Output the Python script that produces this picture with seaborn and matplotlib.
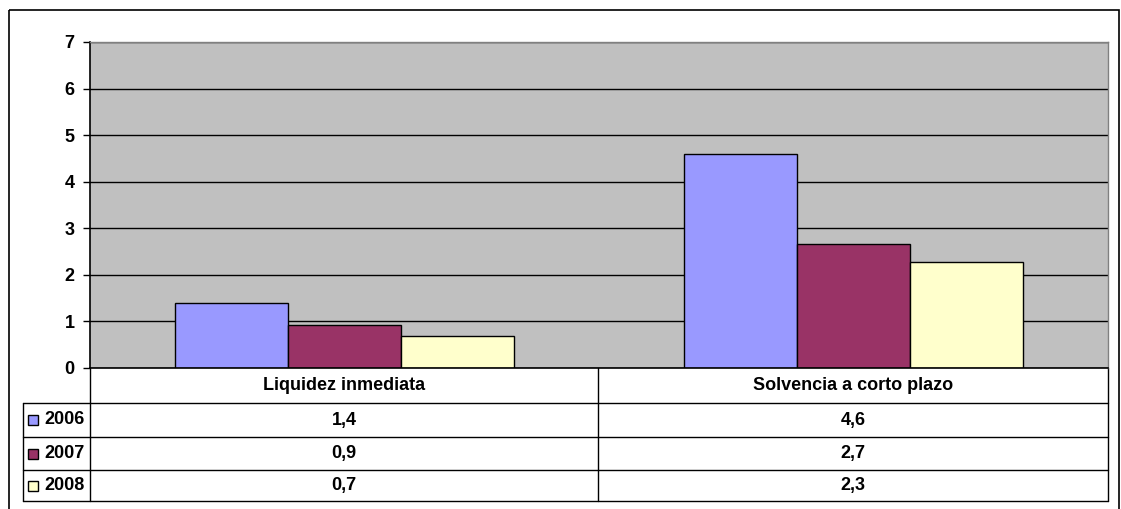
import seaborn as sns
import matplotlib.pyplot as plt
import pandas as pd
from matplotlib.patches import Rectangle

# chart data
categories = ["Liquidez inmediata", "Solvencia a corto plazo"]
years = ["2006", "2007", "2008"]
values_2006 = [1.40, 4.60]
values_2007 = [0.92, 2.66]
values_2008 = [0.68, 2.28]
year_colors = ["#9999FF", "#993366", "#FFFFCC"]
y_ticks = [0, 1, 2, 3, 4, 5, 6, 7]

series = {"2006": values_2006, "2007": values_2007, "2008": values_2008}
rows = []
for year in years:
    for cat, val in zip(categories, series[year]):
        rows.append({"categoria": cat, "anio": year, "valor": val})
df = pd.DataFrame(rows)

sns.set_style("white")
plt.rcParams["font.family"] = ["Liberation Sans", "DejaVu Sans"]
plt.rcParams["font.weight"] = "bold"
plt.rcParams["text.color"] = "black"
plt.rcParams["ytick.color"] = "black"
plt.rcParams["ytick.labelcolor"] = "black"

FS = 13
W, H = 1121, 509
fig = plt.figure(figsize=(W / 100, H / 100), dpi=100)

def px_box(x0, y0, x1, y1):
    return [x0 / W, 1 - y1 / H, (x1 - x0) / W, (y1 - y0) / H]

# overlay for frame and data table (pixel coordinates)
over = fig.add_axes([0, 0, 1, 1])
over.set_xlim(0, W)
over.set_ylim(H, 0)
over.axis("off")
over.add_patch(Rectangle((9, 10), 1110, 520, fill=False, ec="black", lw=1.2, clip_on=False))

ax = fig.add_axes(px_box(90, 42, 1108, 368))
sns.barplot(data=df, x="categoria", y="valor", hue="anio", palette=year_colors,
            width=0.667, edgecolor="black", linewidth=1, saturation=1,
            legend=False, ax=ax)
ax.set_facecolor("#C0C0C0")
ax.set_ylim(0, 7)
ax.set_xlim(-0.5, 1.5)
ax.set_yticks(y_ticks)
ax.set_yticklabels([str(t) for t in y_ticks], fontsize=FS, fontweight="bold", color="black")
ax.set_xticks([])
ax.set_xlabel("")
ax.set_ylabel("")
ax.yaxis.grid(True, color="black", lw=1)
ax.set_axisbelow(True)
ax.tick_params(axis="y", length=5, width=1, color="black", direction="out", pad=6, left=True)
for side in ["left", "bottom"]:
    ax.spines[side].set_color("black")
    ax.spines[side].set_linewidth(1.2)
for side in ["top", "right"]:
    ax.spines[side].set_color("#808080")
    ax.spines[side].set_linewidth(1)

# data table under the chart
x_left, x_plot, x_mid, x_right = 23, 90, 598, 1108
row_lines = [368, 403, 437, 470, 501]
lc = "black"
for y in row_lines[1:]:
    over.plot([x_left, x_right], [y, y], color=lc, lw=1)
for x in [x_plot, x_mid, x_right]:
    over.plot([x, x], [row_lines[0], row_lines[-1]], color=lc, lw=1)
over.plot([x_left, x_left], [row_lines[1], row_lines[-1]], color=lc, lw=1)

col_centers = [(x_plot + x_mid) / 2, (x_mid + x_right) / 2]
for cx, cat in zip(col_centers, categories):
    over.text(cx, (row_lines[0] + row_lines[1]) / 2, cat, ha="center", va="center",
              fontsize=FS, fontweight="bold")

for i, year in enumerate(years):
    y0, y1 = row_lines[i + 1], row_lines[i + 2]
    yc = (y0 + y1) / 2
    over.add_patch(Rectangle((28, yc - 5), 10, 10, fc=year_colors[i], ec="black", lw=1))
    over.text(44, yc, year, ha="left", va="center", fontsize=FS, fontweight="bold")
    for cx, val in zip(col_centers, series[year]):
        over.text(cx, yc, f"{val:.1f}".replace(".", ","), ha="center", va="center",
                  fontsize=FS, fontweight="bold")

plt.savefig("out.png", dpi=100)
